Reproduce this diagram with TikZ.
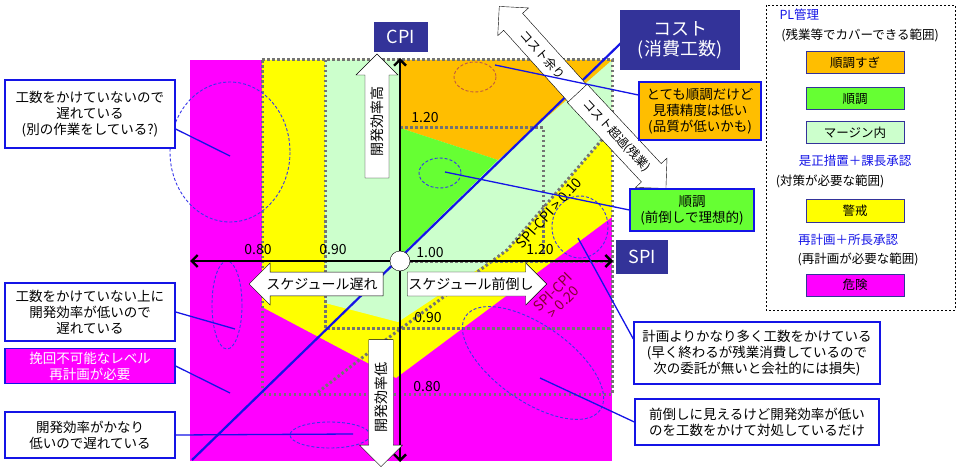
\documentclass[tikz,border=0pt]{standalone}
\usepackage{fontspec}
\setmainfont{Noto Sans CJK JP}
\usetikzlibrary{shapes.arrows,arrows.meta}
\definecolor{mag}{RGB}{255,0,255}
\definecolor{ylw}{RGB}{255,255,0}
\definecolor{lgr}{RGB}{204,255,204}
\definecolor{org}{RGB}{255,190,0}
\definecolor{grn}{RGB}{102,255,51}
\definecolor{navy}{RGB}{51,51,153}
\definecolor{bl}{RGB}{20,20,230}
\tikzset{
 dotl/.style={draw=gray!90!black,line width=3pt,dash pattern=on 2.5pt off 2.5pt},
 ell/.style={draw=bl!85,line width=0.9pt,dash pattern=on 3pt off 2pt},
 call/.style={draw=bl,line width=1.3pt,fill=white,align=center,inner sep=3pt,font=\fontsize{13.5}{16}\selectfont},
 hdr/.style={fill=navy,text=white,align=center,inner sep=4pt,font=\fontsize{18}{20}\selectfont},
 lk/.style={draw=bl,line width=1.3pt},
 num/.style={font=\fontsize{14}{15}\selectfont},
 barrow/.style={single arrow,draw=black,thin,fill=white,inner xsep=1pt,inner ysep=4pt,single arrow head extend=8pt,font=\fontsize{14}{15}\selectfont},
 leg/.style={draw=navy,line width=1pt,minimum width=98pt,minimum height=22pt,font=\fontsize{12.5}{14}\selectfont},
 lt/.style={font=\fontsize{12.5}{14}\selectfont}
}
\begin{document}
\begin{tikzpicture}[x=1pt,y=-1pt]
\useasboundingbox (0,0) rectangle (959,476);
% regions
\fill[mag] (190,60) rectangle (612,461);
\fill[ylw] (262,60) -- (612,60) -- (612,217) -- (396,378) -- (262,307) -- cycle;
\fill[lgr] (325,60) -- (612,60) -- (612,128) -- (507,250) -- (398,322) -- (325,303) -- cycle;
\fill[org] (400,60) -- (612,60) -- (498,160) -- (400,128) -- cycle;
\fill[grn] (400,128) -- (498,160) -- (400,256) -- cycle;
% dotted grid
\draw[dotl] (262,60) -- (612,60) -- (612,394) -- (262,394) -- cycle;
\draw[dotl] (325,60) -- (325,328) -- (612,328);
\draw[dotl] (400,128) -- (543,128) -- (543,255);
\draw[dotl] (400,261) -- (612,261);
\draw[dotl] (612,128) -- (507,250) -- (372,350) -- (317,393);
% ellipses
\draw[ell] (230,152) ellipse [x radius=60,y radius=70];
\draw[ell,draw=brown!70!purple] (475,77) ellipse [x radius=21,y radius=15];
\draw[ell] (440,173) ellipse [x radius=21,y radius=15];
\draw[ell] (580,227) ellipse [x radius=28,y radius=31];
\draw[ell] (227,305) ellipse [x radius=15,y radius=44];
\draw[ell,rotate around={-35:(533,363)}] (533,363) ellipse [x radius=82,y radius=38];
\draw[ell] (330,435) ellipse [x radius=40,y radius=13];
% cost line
\coordinate (cl0) at (192,460);
\coordinate (cl1) at (622,42);
\draw[bl,line width=2.2pt] (cl0) -- (cl1);
% axes
\coordinate (xl) at (190,261); \coordinate (xr) at (613,261);
\coordinate (yt) at (400,58); \coordinate (yb) at (400,462);
\draw[line width=2.4pt,{Straight Barb[length=6pt,width=12pt]}-{Straight Barb[length=6pt,width=12pt]}] (xl) -- (xr);
\draw[line width=2.4pt,{Straight Barb[length=6pt,width=12pt]}-{Straight Barb[length=6pt,width=12pt]}] (yt) -- (yb);
\node[circle,draw,fill=white,minimum size=20pt,inner sep=0pt] (o) at (400,261) {};
% numbers
\node[num] (n1) at (258,250) {0.80};
\node[num] (n2) at (333,250) {0.90};
\node[num] (n3) at (430,253) {1.00};
\node[num] (n4) at (540,250) {1.20};
\node[num] (n5) at (425,118) {1.20};
\node[num] (n6) at (428,318) {0.90};
\node[num] (n7) at (427,387) {0.80};
% block arrows
\node[barrow,rotate=90,minimum height=124pt,minimum width=42pt] (up) at (377,122) {開発効率高};
\node[barrow,rotate=90,shape border rotate=180,minimum height=127pt,minimum width=43pt] (dn) at (381,397) {開発効率低};
\node[barrow,shape border rotate=180,minimum height=134pt,minimum width=42pt] (lf) at (322,284) {スケジュール遅れ};
\node[barrow,minimum height=134pt,minimum width=42pt] (rt) at (471,284) {スケジュール前倒し};
\node[barrow,rotate=-48,shape border rotate=180,inner ysep=7pt,minimum height=118pt,minimum width=40pt,font=\fontsize{12}{13}\selectfont] (ca) at (543,55) {コスト余り};
\node[barrow,rotate=-47,inner ysep=7pt,minimum height=130pt,minimum width=40pt,font=\fontsize{12}{13}\selectfont] (cb) at (617,136) {コスト超過(残業)};
% diagonal labels
\node[num,rotate=48] (d1) at (549,213) {SPI-CPI > 0.10};
\node[rotate=45,text=purple!70!black,align=center,font=\fontsize{14}{14}\selectfont] (d2) at (558,297) {SPI-CPI\\> 0.20};
% headers
\node[hdr,minimum width=54pt,minimum height=30pt] (cpi) at (401,37) {CPI};
\node[hdr,minimum width=120pt,minimum height=60pt] (cost) at (680,40) {コスト\\(消費工数)};
\node[hdr,minimum width=52pt,minimum height=34pt] (spi) at (642,257) {SPI};
% left callouts
\node[call,minimum width=170pt,minimum height=68pt] (b1) at (90,114) {工数をかけていないので\\遅れている\\(別の作業をしている?)};
\node[call,minimum width=170pt,minimum height=58pt] (b2) at (90,312) {工数をかけていない上に\\開発効率が低いので\\遅れている};
\node[call,fill=mag,text=white,minimum width=170pt,minimum height=34pt] (b3) at (90,366) {挽回不可能なレベル\\再計画が必要};
\node[call,minimum width=170pt,minimum height=46pt] (b4) at (90,435) {開発効率がかなり\\低いので遅れている};
\coordinate (e1) at (230,156);
\coordinate (e2) at (235,329);
\coordinate (e3) at (230,393);
\coordinate (e4) at (353,434);
\draw[lk] (b1.east) ++(0,15) -- (e1);
\draw[lk] (b2.east) -- (e2);
\draw[lk] (b3.east) -- (e3);
\draw[lk] (b4.east) -- (e4);
% right callouts
\node[call,fill=org,minimum width=122pt,minimum height=58pt] (r1) at (700,111) {とても順調だけど\\見積精度は低い\\(品質が低いかも)};
\node[call,fill=grn,minimum width=124pt,minimum height=42pt] (r2) at (692,210) {順調\\(前倒しで理想的)};
\node[call,minimum width=246pt,minimum height=62pt] (r3) at (757,353) {計画よりかなり多く工数をかけている\\(早く終わるが残業消費しているので\\次の委託が無いと会社的には損失)};
\node[call,minimum width=244pt,minimum height=46pt] (r4) at (757,422) {前倒しに見えるけど開発効率が低い\\のを工数をかけて対処しているだけ};
\coordinate (f1) at (495,65);
\coordinate (f2) at (445,172);
\coordinate (f3) at (578,238);
\coordinate (f4) at (540,378);
\draw[lk] (r1.west) ++(0,-16) -- (f1);
\draw[lk] (r2.west) -- (f2);
\draw[lk] (r3.west) ++(0,-14) -- (f3);
\draw[lk] (r4.west) -- (f4);
% legend
\draw[thick,dash pattern=on 2pt off 2pt] (766,5) rectangle (955,310);
\node[lt,text=bl,anchor=west] (l1) at (776,15) {PL管理};
\node[lt] (l2) at (860,35) {(残業等でカバーできる範囲)};
\node[leg,fill=org] (g1) at (855,63) {順調すぎ};
\node[leg,fill=grn] (g2) at (855,99) {順調};
\node[leg,fill=lgr] (g3) at (855,133) {マージン内};
\node[lt,text=bl] (l3) at (855,161) {是正措置＋課長承認};
\node[lt] (l4) at (830,181) {(対策が必要な範囲)};
\node[leg,fill=ylw] (g4) at (855,211) {警戒};
\node[lt,text=bl] (l5) at (848,240) {再計画＋所長承認};
\node[lt] (l6) at (858,259) {(再計画が必要な範囲)};
\node[leg,fill=mag] (g5) at (855,285) {危険};
\end{tikzpicture}
\end{document}
